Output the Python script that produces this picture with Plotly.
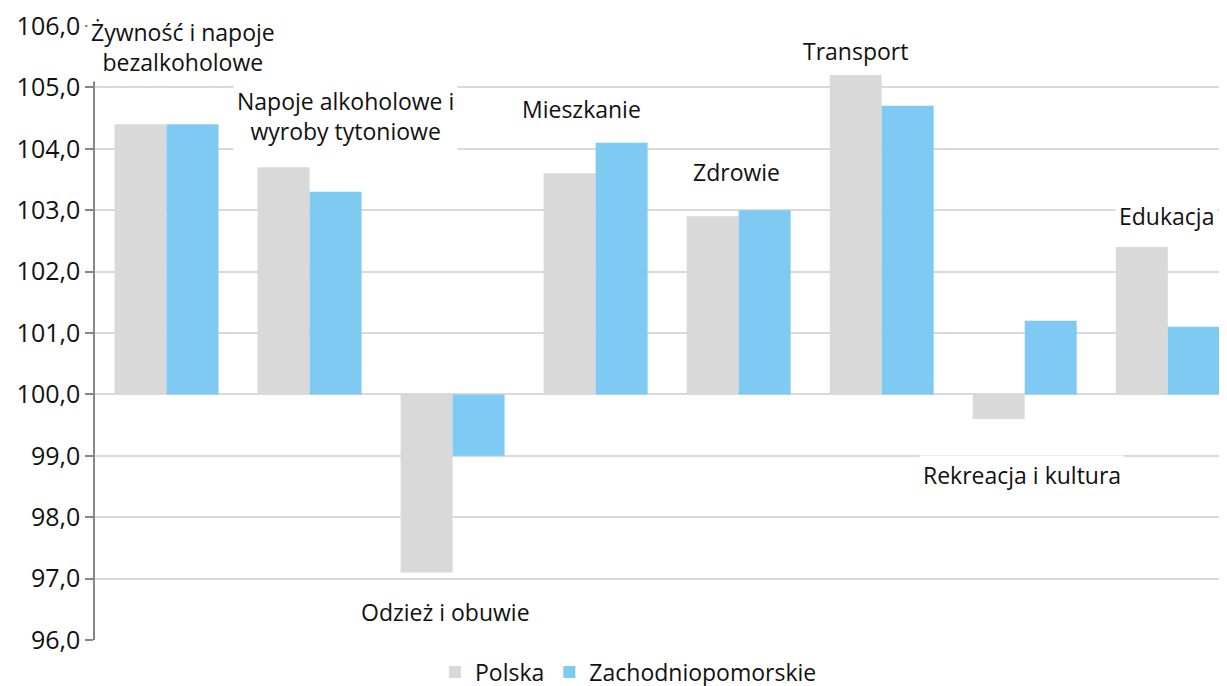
import plotly.graph_objects as go

kategorie = ["Żywność i napoje bezalkoholowe", "Napoje alkoholowe i wyroby tytoniowe",
             "Odzież i obuwie", "Mieszkanie", "Zdrowie", "Transport",
             "Rekreacja i kultura", "Edukacja"]
polska = [104.4, 103.7, 97.1, 103.6, 102.9, 105.2, 99.6, 102.4]
zachodniopomorskie = [104.4, 103.3, 99.0, 104.1, 103.0, 104.7, 101.2, 101.1]

# etykiety kategorii: tekst, pozycja x (indeks kategorii), pozycja y (wartość)
etykiety = ["Żywność i napoje<br>bezalkoholowe", "Napoje alkoholowe i<br>wyroby tytoniowe",
            "Odzież i obuwie", "Mieszkanie", "Zdrowie", "Transport",
            "Rekreacja i kultura", "Edukacja"]
etykiety_x = [0.115, 1.248, 1.948, 2.899, 3.983, 4.82, 5.98, 6.99]
etykiety_y = [105.66, 104.54, 96.45, 104.65, 103.63, 105.6, 98.69, 102.9]

BAZA = 100
FONT = "Open Sans"

fig = go.Figure()
fig.add_bar(x=list(range(len(kategorie))), y=[v - BAZA for v in polska], base=BAZA,
            name="Polska", marker=dict(color="#d9d9d9", line_width=0))
fig.add_bar(x=list(range(len(kategorie))), y=[v - BAZA for v in zachodniopomorskie], base=BAZA,
            name="Zachodniopomorskie", marker=dict(color="#7fcaf3", line_width=0))

for tekst, x, y in zip(etykiety, etykiety_x, etykiety_y):
    fig.add_annotation(x=x, y=y, xref="x", yref="y", text=tekst, showarrow=False,
                       bgcolor="white", borderpad=3,
                       font=dict(family=FONT, size=23, color="#111111"))

# strona ma 8 px marginesu body, więc marginesy wykresu są o tyle mniejsze
fig.update_layout(
    width=1227, height=686,
    margin=dict(l=87, r=0, t=18, b=54),
    plot_bgcolor="white", paper_bgcolor="white",
    barmode="group", bargap=0.273, bargroupgap=0,
    separators=", ",
    font=dict(family=FONT, size=23, color="#111111"),
    showlegend=True,
    legend=dict(orientation="h", x=0.468, xanchor="center", y=-0.052, yanchor="middle",
                font=dict(size=23), traceorder="normal"),
)
fig.update_xaxes(range=[-0.5, 7.47], showticklabels=False, showgrid=False,
                 zeroline=False, showline=False, ticks="", automargin=False)
fig.update_yaxes(range=[96, 106], dtick=1, tickformat=".1f", showgrid=True,
                 gridcolor="#d9d9d9", gridwidth=1.5, zeroline=False,
                 showline=True, linecolor="#868686", linewidth=1.5,
                 ticks="outside", ticklen=8, tickcolor="#868686", tickwidth=1.5,
                 tickfont=dict(size=25), ticklabeloverflow="allow", automargin=False)

fig.write_html("out.html")
